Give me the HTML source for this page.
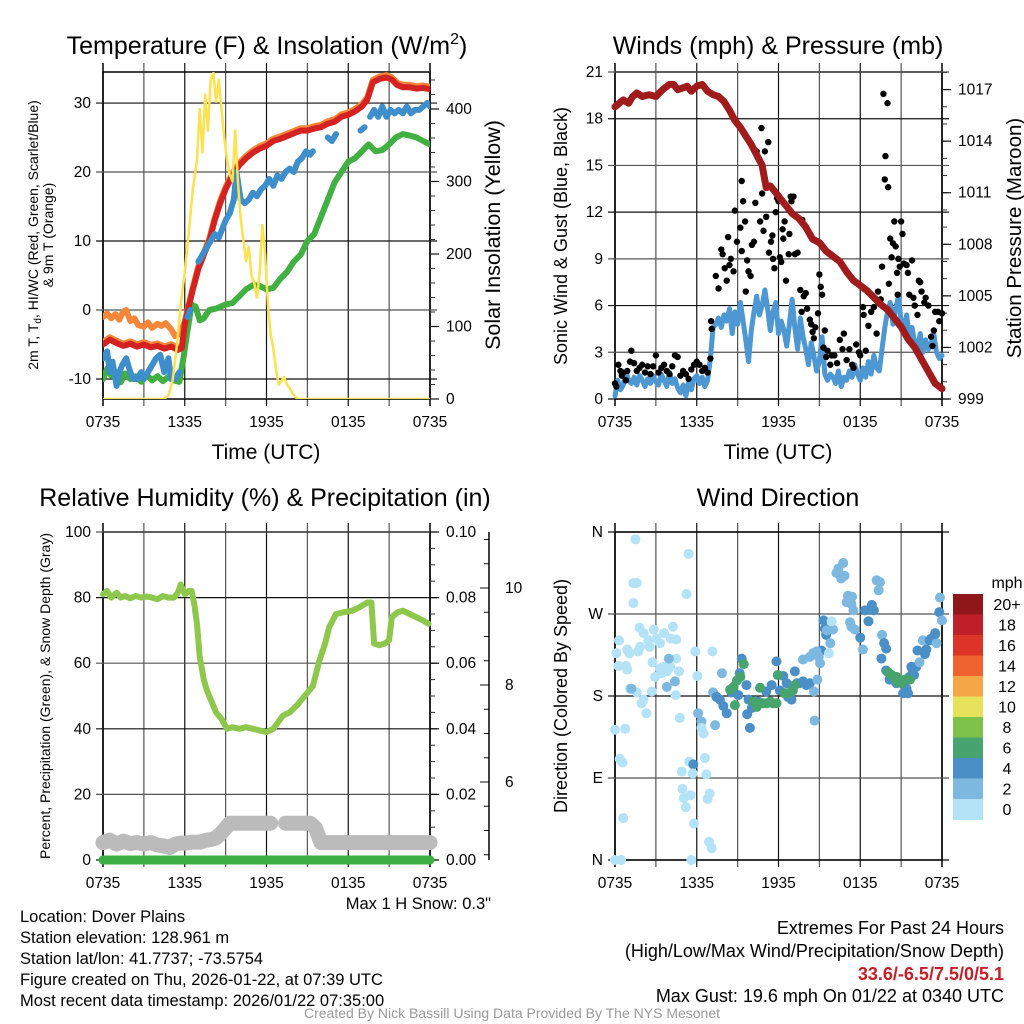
<!DOCTYPE html>
<html><head><meta charset="utf-8"><title>Dover Plains Meteogram</title>
<style>
html,body{margin:0;padding:0;background:#fff;}
svg{display:block;font-family:"Liberation Sans",Arial,sans-serif;}
</style></head>
<body>
<svg id="fig" width="1024" height="1024" viewBox="0 0 1024 1024" xmlns="http://www.w3.org/2000/svg">
<rect x="0" y="0" width="1024" height="1024" fill="#fff"/>
<text x="267" y="54" font-size="25" text-anchor="middle">Temperature (F) &amp; Insolation (W/m<tspan font-size="16" dy="-10">2</tspan><tspan dy="10">)</tspan></text>
<text x="778" y="54" font-size="25" text-anchor="middle">Winds (mph) &amp; Pressure (mb)</text>
<text x="265" y="506" font-size="25" text-anchor="middle">Relative Humidity (%) &amp; Precipitation (in)</text>
<text x="778" y="506" font-size="25" text-anchor="middle">Wind Direction</text>

<text x="266" y="459" font-size="21" text-anchor="middle">Time (UTC)</text>
<text x="778" y="459" font-size="21" text-anchor="middle">Time (UTC)</text>

<text transform="translate(38,235) rotate(-90)" font-size="14" text-anchor="middle">2m T, T<tspan font-size="10" dy="3">d</tspan><tspan dy="-3">, HI/WC (Red, Green, Scarlet/Blue)</tspan></text>
<text transform="translate(53,235) rotate(-90)" font-size="14" text-anchor="middle">&amp; 9m T (Orange)</text>
<text transform="translate(500,235) rotate(-90)" font-size="21.5" text-anchor="middle">Solar Insolation (Yellow)</text>
<text transform="translate(567,236) rotate(-90)" font-size="18" text-anchor="middle">Sonic Wind &amp; Gust (Blue, Black)</text>
<text transform="translate(1021,238) rotate(-90)" font-size="20.5" text-anchor="middle">Station Pressure (Maroon)</text>
<text transform="translate(50,696) rotate(-90)" font-size="14" text-anchor="middle">Percent, Precipitation (Green), &amp; Snow Depth (Gray)</text>
<text transform="translate(567,696) rotate(-90)" font-size="18" text-anchor="middle">Direction (Colored By Speed)</text>

<text x="491" y="909" font-size="16.5" text-anchor="end">Max 1 H Snow: 0.3"</text>
<g font-size="16.5">
<text x="20" y="922">Location: Dover Plains</text>
<text x="20" y="943">Station elevation: 128.961 m</text>
<text x="20" y="964">Station lat/lon: 41.7737; -73.5754</text>
<text x="20" y="985">Figure created on Thu, 2026-01-22, at 07:39 UTC</text>
<text x="20" y="1006">Most recent data timestamp: 2026/01/22 07:35:00</text>
</g>
<g font-size="18" text-anchor="end">
<text x="1004" y="934">Extremes For Past 24 Hours</text>
<text x="1004" y="957">(High/Low/Max Wind/Precipitation/Snow Depth)</text>
<text x="1004" y="980" font-weight="bold" fill="#C8202A">33.6/-6.5/7.5/0/5.1</text>
<text x="1004" y="1002">Max Gust: 19.6 mph On 01/22 at 0340 UTC</text>
</g>
<text x="512" y="1018" font-size="14" fill="#999" text-anchor="middle">Created By Nick Bassill Using Data Provided By The NYS Mesonet</text>
</svg>
<script>
// ---------- DATA ----------
const xTickLabels = ["0735","1335","1935","0135","0735"];
const tempTicks = [-10,0,10,20,30];
const solarTicks = [0,100,200,300,400];
const windTicks = [0,3,6,9,12,15,18,21];
const presTicks = [999,1002,1005,1008,1011,1014,1017];
const rhTicks = [0,20,40,60,80,100];
const precipTickLabels = ["0.00","0.02","0.04","0.06","0.08","0.10"];
const snowTicks = [6,8,10];
const dirTickLabels = ["N","E","S","W","N"];
const speedBins = ["0","2","4","6","8","10","12","14","16","18","20+"];
const speedColors = ["#B4E2F6","#7DB8E1","#4A8FC5","#48A46E","#7DC04A","#E7E25B","#F5A646","#EE6330","#DC3427","#C01F2A","#901719"];

// Temperature panel (hours since 0735 UTC)
const redT = [0,0.5,1,1.5,2,2.5,3,3.5,4,4.5,5,5.5,5.8,6,6.3,6.6,7,7.4,7.8,8.2,8.6,9,9.5,10,10.5,11,11.5,12,12.5,13,13.5,14,14.5,15,15.5,16,16.5,17,17.5,18,18.5,19,19.4,19.8,20.3,20.8,21.2,21.6,22,22.5,23,23.5,24];
const redV = [-5,-4.3,-4.8,-5.2,-4.9,-5.3,-5.0,-5.4,-5.2,-5.6,-5.3,-5.8,-5.5,-2,0.5,3,6,8,10,13,15.5,17.5,19.5,21,22,22.8,23.4,23.8,24.5,24.8,25.2,25.6,26,26,26.3,26.5,27,27.3,28,28.3,28.8,29.5,30.5,33,33.5,33.7,33.4,32.6,32.3,32.3,32.1,32.2,32];
const orangeT = [0,0.3,0.6,0.9,1.2,1.5,1.7,2,2.3,2.6,3,3.3,3.6,4,4.3,4.6,5,5.3,5.6,5.9,6.2];
const orangeV = [-1,-0.5,-1.2,-0.6,-1.4,-0.2,0,-1.6,-1.2,-2.2,-2.4,-1.8,-2.6,-2.0,-2.3,-1.9,-2.8,-3.8,-3.5,-2.2,-0.5];
const greenT = [0,0.3,0.6,1,1.3,1.6,2,2.4,2.8,3.2,3.6,4,4.4,4.8,5.2,5.6,5.9,6.2,6.5,6.8,7.1,7.4,7.8,8.3,9,9.5,10,10.5,11,11.5,12,12.5,13,13.5,14,14.5,15,15.5,16,16.5,17,17.5,18,18.5,19,19.5,20,20.5,21,21.5,22,22.5,23,23.5,24];
const greenV = [-10,-8.5,-9.5,-9.8,-10.5,-9.2,-10,-9.6,-10.4,-9.4,-10.2,-9.6,-10.3,-9.7,-10.2,-10.4,-7,-3,0.8,0.5,-1.5,-1.2,0,0.2,0.8,1,2,3,3.6,3.5,3,3.2,4.5,5.5,7,8,10,11,13.5,16,18.5,20,21.5,22,23,24,23,23.2,24,25,25.5,25.3,25,24.5,24];
const blueT = [0,0.3,0.5,0.7,1,1.2,1.4,1.7,2,2.2,2.5,2.8,3,3.3,3.6,3.9,4.2,4.5,4.8,5,5.3,5.6,null,6.2,6.4,null,7,7.3,7.6,7.9,8.2,8.5,8.8,9,9.3,9.6,9.8,10.1,10.4,10.7,11,11.3,11.6,11.9,12.2,12.5,12.8,13.1,13.4,13.7,14,14.3,14.6,14.9,15.2,15.4,null,16.5,16.8,17.1,null,18.9,19.2,null,19.6,19.9,20.2,20.5,20.8,21.1,21.4,21.7,22,22.3,22.6,22.9,23.2,23.5,23.8,24];
const blueV = [-7,-6,-9,-7.5,-11,-9,-8,-7,-9,-10,-10,-9,-10,-9,-8,-7,-6.5,-9,-7,-10,-10,-9,null,-1,0,null,7,8,9,10,11,10.5,12,13,14,16,20,16,15.5,16,17,16.5,17.5,18,19,18,19.5,19,20,20.5,20,21.5,22,23,22.5,23,null,25,24.5,25.5,null,26,26.5,null,28,29,28,29.5,28,29,28.5,29,28.5,29.5,28.5,29,29,29.5,30,29.5];
const solarT = [0,4.5,4.8,5.1,5.4,5.7,6,6.3,6.6,6.9,7.1,7.3,7.5,7.7,7.9,8.1,8.3,8.5,8.7,8.9,9.1,9.3,9.5,9.7,9.9,10.1,10.3,10.5,10.7,10.9,11.1,11.3,11.5,11.7,11.9,12.1,12.3,12.5,12.7,12.9,13.1,13.3,13.5,13.7,13.9,14.1,14.3,14.5,24];
const solarV = [0,0,5,25,70,130,175,230,290,330,400,340,420,370,440,450,410,440,400,360,330,310,300,370,300,250,220,190,210,170,160,140,175,240,200,130,90,70,40,20,25,30,20,15,8,3,0,0,0];

// Wind panel
const presT = [0,0.3,0.6,1,1.3,1.6,2,2.5,3,3.5,4,4.3,4.6,5,5.3,5.6,6,6.4,6.8,7.2,7.6,8,8.4,8.8,9.2,9.6,10,10.4,10.8,11.1,11.4,11.8,12.2,12.6,13,13.5,14,14.5,15,15.5,16,16.5,17,17.5,18,18.5,19,19.5,20,20.5,21,21.5,22,22.5,23,23.5,24];
const presV = [1016,1016.2,1016.4,1016.2,1016.6,1016.8,1016.6,1016.7,1016.6,1017,1017.3,1017.3,1017,1017.1,1017.2,1016.9,1017.2,1017.3,1016.9,1016.7,1016.6,1016.3,1015.8,1015.2,1014.8,1014.3,1013.8,1013.2,1012.6,1011.3,1011.4,1011,1010.6,1010.2,1009.8,1009.5,1009,1008.3,1008.1,1007.6,1007.3,1007,1006.4,1005.9,1005.6,1005.3,1004.9,1004.5,1004.2,1003.7,1003.2,1002.5,1002,1001.3,1000.6,999.9,999.6];
const windT = [0,0.2,0.4,0.6,0.8,1,1.2,1.4,1.6,1.8,2,2.2,2.4,2.6,2.8,3,3.2,3.4,3.6,3.8,4,4.2,4.4,4.6,4.8,5,5.2,5.4,5.6,5.8,6,6.2,6.4,6.6,6.8,7,7.2,7.4,7.6,7.8,8,8.2,8.4,8.6,8.8,9,9.2,9.4,9.6,9.8,10,10.2,10.4,10.6,10.8,11,11.2,11.4,11.6,11.8,12,12.2,12.4,12.6,12.8,13,13.2,13.4,13.6,13.8,14,14.2,14.4,14.6,14.8,15,15.2,15.4,15.6,15.8,16,16.2,16.4,16.6,16.8,17,17.2,17.4,17.6,17.8,18,18.2,18.4,18.6,18.8,19,19.2,19.4,19.6,19.8,20,20.2,20.4,20.6,20.8,21,21.2,21.4,21.6,21.8,22,22.2,22.4,22.6,22.8,23,23.2,23.4,23.6,23.8,24];
const windV = [0.2,1.2,0.6,0.9,1.8,1.2,1.0,1.4,0.9,1.5,1.2,0.8,1.3,1.0,1.5,1.1,0.9,1.6,1.2,0.8,1.7,1.0,1.3,0.7,0.4,0.9,0.2,1.1,0.6,1.3,1.5,1.0,1.4,0.8,1.2,2.6,4.6,4.8,5.2,4.6,5.4,5.0,5.8,4.2,5.6,4.8,6.2,5.0,3.8,2.4,4.4,5.6,6.6,5.4,6.0,7.0,5.8,4.4,5.6,6.2,4.2,5.0,4.4,3.4,4.8,6.4,4.6,3.2,5.2,4.0,3.2,2.2,3.6,2.8,1.8,2.4,4.0,1.6,1.2,1.6,1.4,1.0,1.8,0.8,1.4,1.2,1.8,1.4,2.2,1.6,1.2,2.0,1.4,2.4,1.6,2.8,2.0,1.8,3.2,4.6,5.6,6.2,4.8,5.8,6.6,5.0,4.4,5.4,4.0,4.6,3.6,3.2,4.2,3.0,3.8,3.2,3.6,4.2,3.0,2.6,2.8];
const gustT = [0,0.1,0.25,0.4,0.5,0.6,0.8,0.9,1.1,1.2,1.4,1.6,1.8,2.0,2.2,2.4,2.6,2.8,3.0,3.2,3.4,3.6,3.8,4.0,4.2,4.4,4.6,4.8,5.0,5.2,5.4,5.6,5.8,6.0,6.2,6.4,6.6,6.8,7.0,7.05,7.1,7.4,7.6,7.8,7.9,8.05,8.2,8.3,8.4,8.5,8.7,8.8,8.95,9.2,9.3,9.4,9.3,9.55,9.6,9.7,9.8,9.95,10.05,10.2,10.3,10.4,10.6,10.65,10.75,10.8,10.9,11.0,11.1,11.25,11.3,11.45,11.55,11.6,11.7,11.8,11.9,12.0,12.1,12.2,12.3,12.35,12.45,12.55,12.75,12.8,12.9,12.95,13.1,13.2,13.4,13.6,13.7,13.75,13.85,14.0,14.1,14.3,14.4,14.5,14.6,14.7,14.9,15.0,15.1,15.2,15.3,15.4,15.5,15.6,15.8,15.9,16.1,16.3,16.5,16.7,16.8,17.0,17.2,17.4,17.5,17.7,17.9,18.0,18.2,18.25,18.4,18.6,18.8,19.0,19.2,19.3,19.5,19.6,19.7,19.8,19.85,20.0,20.05,20.1,20.2,20.3,20.4,20.5,20.6,20.7,20.75,20.8,20.9,21.0,21.1,21.2,21.4,21.5,21.6,21.8,21.9,22.0,22.2,22.3,22.4,22.5,22.7,22.8,23.0,23.2,23.3,23.4,23.5,23.7,23.8,24.0];
const gustV = [1,0.8,2.2,1.8,1.5,1.7,1.2,1.8,2.4,3.1,2.3,1.8,2.0,2.2,1.7,2.1,1.6,2.1,2.8,1.7,2.0,2.2,1.8,1.6,2.1,2.8,2.7,1.5,1.8,1.6,1.3,1.9,2.2,2.4,2.2,1.8,2.0,1.7,2.6,5.0,4.5,7.9,7.1,9.6,9.3,8.4,7.6,10.4,8.6,9.0,8.2,12.1,10.1,11.0,14.0,12.7,9.5,11.4,6.9,8.9,8.2,7.9,9.9,10.1,12.6,15.9,15.3,11.4,17.4,13.2,10.8,15.9,11.7,16.5,9.4,10.1,10.5,9.0,8.4,12.0,12.9,12.7,9.1,8.8,10.9,10.3,11.4,7.6,9.3,10.6,13.0,12.7,13.0,9.3,9.4,7.0,5.6,11.5,6.6,6.8,5.8,5.1,4.8,4.3,3.9,4.6,5.5,8.0,7.2,6.7,3.3,4.4,2.7,3.1,2.2,2.8,2.8,2.3,3.8,3.2,4.2,2.5,3.2,2.2,2.0,3.5,3.0,2.8,5.9,5.4,3.1,4.7,5.6,5.9,4.2,6.9,6.4,8.5,19.6,14.1,15.6,19.0,13.6,7.4,10.3,9.1,10.0,11.4,9.8,8.1,6.7,9.0,8.5,11.4,10.6,8.7,8.6,8.1,6.7,8.9,6.5,6.0,5.4,7.6,7.5,6.9,6.2,6.5,6.0,4.0,3.4,4.4,5.6,5.6,5.0,5.5];

// Humidity panel
const rhT = [0,0.3,0.6,1,1.3,1.6,2,2.4,2.8,3.2,3.6,4,4.4,4.8,5.2,5.5,5.7,6,6.3,6.5,6.7,6.9,7.1,7.4,7.6,8,8.3,8.7,9.1,9.5,10,10.5,11,11.5,12,12.5,13.2,13.7,14.2,14.8,15.4,15.9,16.3,16.6,17.1,17.6,18.3,18.8,19.4,19.7,19.9,20.3,20.7,21,21.2,21.6,22,22.5,23,23.5,23.9];
const rhV = [81,82,80,81.5,80,80.5,79.8,80.5,80,80.3,80,79.5,80.5,80,80,81.5,84,81,82,82,78,72,62,55,52,48,45,43,40,40.5,40,40.5,40,39.5,39,40,44,45,47,50,53,61,66,71,75,75.5,76,77,78.5,78.5,66,65.5,66,67,74,75.5,76,75,74,73,72];
const precipT = [0,24];
const precipV = [0,0];
const snowT = [0,0.5,1,1.5,2,2.5,3,3.5,4,4.5,4.9,5.3,5.7,6.1,6.6,7.1,7.6,8,8.3,8.7,9.3,10,11,12.3,null,13.4,14.2,15.2,15.6,16,17,18,19,20,21,22,23,24];
const snowV = [4.75,4.8,4.72,4.78,4.73,4.75,4.72,4.75,4.7,4.68,4.65,4.72,4.74,4.74,4.76,4.76,4.8,4.82,4.85,4.95,5.15,5.15,5.15,5.15,null,5.15,5.15,5.15,5.05,4.75,4.75,4.75,4.75,4.75,4.75,4.75,4.75,4.75];

// Wind direction panel: hours, degrees, speed (mph)
const dirT = [1.5,1.35,1.6,1.35,0.3,0.1,0.25,0.9,1.05,0.8,0.9,1.8,2.1,2.45,1.85,1.7,2.55,2.85,3.05,3.3,3.6,4.25,4.1,4.5,2.75,3.3,3.55,2.95,3.4,3.8,4.05,4.5,4.7,1.1,1.6,2.7,2.1,1.95,2.3,4.45,4.75,0,0.75,0.35,0.55,0.6,0,0.45,3.95,4.4,3.8,1.2,
5.4,5.25,5.9,6.05,7.15,5.6,6.1,6.35,6.5,6.6,6.7,6.35,5.45,5.75,4.9,5.7,4.95,5.05,5.2,5.55,6.8,6.95,5.8,6.9,7.1,7.2,7.35,
7.45,7.7,7.95,8.2,7.85,8.55,9.05,9.15,9.65,9.8,9.7,9.9,10.05,10.5,11.1,11.5,11.85,12.1,12.35,12.6,12.7,12.95,13.2,13.35,13.55,13.8,14.05,14.3,14.6,14.65,14.85,15.05,15.15,15.3,15.4,15.5,14.95,13.8,14.3,14.55,14.8,15.8,16.0,15.9,15.7,15.55,16.25,16.6,16.75,16.85,16.4,17.0,17.1,17.35,17.5,17.35,17.6,17.4,17.25,18.0,18.2,18.35,18.6,18.85,19.0,19.2,19.45,19.35,19.6,19.75,19.9,19.55,19.9,20.15,20.4,20.65,21.15,21.4,21.5,21.6,21.75,21.85,22.1,21.95,22.2,22.35,22.6,22.75,22.85,23.1,23.2,23.5,23.6,23.8,23.85,24.0,23.5,
9.3,9.45,9.2,8.95,8.7,8.8,8.45,10.15,10.4,10.65,10.9,11.15,11.4,11.6,11.85,10.65,11.95,12.45,12.7,13.05,13.2,20.05,20.3,20.55,20.8,21.05,21.3,21.65,20.9,20.65];
const dirDeg = [352,304,304,282,241,227,213,231,227,213,209,255,249,241,234,229,234,253,243,238,249,256,243,242,217,210,212,201,205,207,212,221,207,188,184,185,176,172,161,181,156,143,144,111,107,46,0,0,221,196,190,188,
336,292,229,202,229,0,161,152,139,112,94,145,108,105,97,95,78,68,58,71,67,73,40,20,13,184,148,
179,176,169,161,205,184,181,205,192,176,160,145,167,174,185,192,218,186,202,194,179,176,207,194,194,196,192,194,185,153,198,216,230,263,254,247,223,220,223,227,229,238,253,262,227,252,315,309,326,312,320,283,290,281,274,256,253,289,261,244,231,274,262,280,274,307,305,296,247,238,232,221,208,198,198,194,183,188,183,201,212,208,212,203,230,217,241,226,231,241,243,249,238,272,288,263,248,
221,215,201,197,190,170,187,174,168,172,172,172,174,172,172,189,203,183,183,186,192,206,203,199,195,194,198,198,198,201];
const dirSpd = [1,1,1,1,1,1,1,1,1,1,1,1,1,1,1,1,1,1,1,1,1,1,1,1,1,1,1,1,1,1,1,1,1,1,1,1,1,1,1,1,1,1,1,1,1,1,1,1,3,3,3,3,
1,1,1,1,1,1,3,3,1,1,1,1,1,5,1,1,1,1,1,1,1,1,1,1,1,3,3,
5,5,5,5,3,5,5,5,5,5,5,5,5,5,5,5,5,5,5,5,5,5,5,5,5,5,5,5,3,3,3,3,5,5,5,5,3,3,3,3,3,3,3,1,1,3,3,3,3,3,3,3,3,3,3,3,3,3,3,5,3,5,5,5,5,3,3,3,3,5,5,5,5,5,5,5,5,5,5,5,5,5,5,5,5,3,3,5,5,5,5,5,3,5,3,3,5,5,
7,7,7,7,7,7,7,7,7,7,7,7,7,7,7,7,7,7,7,7,7,7,7,7,7,7,7,7,7,7];

// ---------- DRAWING ----------
const NS = "http://www.w3.org/2000/svg";
const svg = document.getElementById("fig");
function mk(tag, attrs, parent){
  const e = document.createElementNS(NS, tag);
  for (const k in attrs) e.setAttribute(k, attrs[k]);
  (parent||svg).appendChild(e);
  return e;
}
function linScale(d0,d1,r0,r1){ return v => r0 + (v-d0)/(d1-d0)*(r1-r0); }

function frame(P, name){
  const g = mk("g", {});
  
  
  for (let h=0; h<=24; h+=3){
    const x = P.x(h);
    const l = mk("line", {x1:x, x2:x, y1:P.top-9, y2:P.bot+7, stroke:(h%6===0?"#111":"#555"), "stroke-width":(h===0||h===24)?1.6:1.2}, g);
    
    
  }
  xTickLabels.forEach((lab,i)=>{
    const t = mk("text", {x:P.x(i*6), y:P.bot+28, "font-size":15.5, "text-anchor":"middle"}, g);
    t.textContent = lab;
    
    
  });
  const r = mk("rect", {x:P.left, y:P.top, width:P.right-P.left, height:P.bot-P.top, fill:"none", stroke:"#111", "stroke-width":1.6}, g);
  
  
  return g;
}
function yGrid(P, ticks, scale, labels, g){
  ticks.forEach((v,i)=>{
    const y = scale(v);
    const l = mk("line", {x1:P.left-7, x2:P.right+7, y1:y, y2:y, stroke:(i%2?"#555":"#111"), "stroke-width":1.2}, g);
    
    
    const t = mk("text", {x:P.left-12, y:y+5, "font-size":15.5, "text-anchor":"end"}, g);
    t.textContent = labels ? labels[i] : String(v);
    
    
  });
}
function rightTicks(P, ticks, scale, labels, g, minorStep, dmin, dmax){
  if (minorStep){
    for (let v=dmin; v<=dmax+1e-9; v+=minorStep){
      const y = scale(v);
      if (y < P.top-0.5 || y > P.bot+0.5) continue;
      const l = mk("line", {x1:P.right, x2:P.right+5, y1:y, y2:y, stroke:"#333", "stroke-width":1}, g);
      
      
    }
  }
  ticks.forEach((v,i)=>{
    const y = scale(v);
    const l = mk("line", {x1:P.right, x2:P.right+9, y1:y, y2:y, stroke:"#111", "stroke-width":1.2}, g);
    
    
    const t = mk("text", {x:P.right+16, y:y+5, "font-size":15.5}, g);
    t.textContent = labels ? labels[i] : String(v);
    
    
  });
}
function pathFrom(ts, vs, xs, ys){
  let d = "", pen = false;
  for (let i=0;i<ts.length;i++){
    if (ts[i]===null || vs[i]===null){ pen=false; continue; }
    d += (pen?"L":"M") + xs(ts[i]).toFixed(1) + "," + ys(vs[i]).toFixed(1);
    pen = true;
  }
  return d;
}
function line(g, ts, vs, xs, ys, color, w, name){
  const p = mk("path", {d:pathFrom(ts,vs,xs,ys), fill:"none", stroke:color, "stroke-width":w, "stroke-linejoin":"round", "stroke-linecap":"round"}, g);
  
  
  return p;
}

// Panel 1: temperature
(function(){
  const P = {left:103, right:430, top:72, bot:399};
  P.x = linScale(0,24,P.left,P.right);
  const yT = linScale(-12.9,34.5,P.bot,P.top);
  const yS = linScale(0,451,P.bot,P.top);
  const g = frame(P, "temperature");
  yGrid(P, tempTicks, yT, null, g);
  rightTicks(P, solarTicks, yS, null, g, 20, 0, 440);
  const clip = mk("clipPath", {id:"c1"});
  mk("rect", {x:P.left, y:P.top, width:P.right-P.left, height:P.bot-P.top}, clip);
  const s = mk("g", {"clip-path":"url(#c1)"});
  
  
  line(s, orangeT, orangeV, P.x, yT, "#F5873A", 6, "temp-9m-line");
  line(s, redT, redV.map(v=>v+0.35), P.x, yT, "#F5873A", 6, "temp-9m-line-upper");
  line(s, greenT, greenV, P.x, yT, "#41AF41", 6, "dewpoint-line");
  line(s, redT, redV, P.x, yT, "#D42222", 6, "temp-2m-line");
  line(s, blueT, blueV, P.x, yT, "#3E8ECB", 6, "windchill-line");
  line(s, solarT, solarV, P.x, yS, "#FCE24E", 2.5, "solar-insolation-line");
})();

// Panel 2: winds & pressure
(function(){
  const P = {left:615, right:942, top:72, bot:399};
  P.x = linScale(0,24,P.left,P.right);
  const yW = linScale(0,21,P.bot,P.top);
  const yP = linScale(999,1018,P.bot,P.top+0.4);
  const g = frame(P, "winds");
  yGrid(P, windTicks, yW, null, g);
  rightTicks(P, presTicks, yP, null, g, 1, 999, 1018);
  const clip = mk("clipPath", {id:"c2"});
  mk("rect", {x:P.left-4, y:P.top, width:P.right-P.left+8, height:P.bot-P.top+4}, clip);
  const s = mk("g", {"clip-path":"url(#c2)"});
  
  
  line(s, windT, windV, P.x, yW, "#4D97D2", 5, "sonic-wind-line");
  gustT.forEach((t,i)=>{
    const c = mk("circle", {cx:P.x(t), cy:yW(gustV[i]), r:3.2, fill:"#000"}, s);
    
    
  });
  line(s, presT, presV, P.x, yP, "#A01B1B", 7, "pressure-line");
})();

// Panel 3: humidity
(function(){
  const P = {left:103, right:430, top:532, bot:860};
  P.x = linScale(0,24,P.left,P.right);
  const yR = linScale(0,100,P.bot,P.top);
  const yPr = linScale(0,0.1,P.bot,P.top);
  const ySn = linScale(6,10,782,588);
  const g = frame(P, "humidity");
  yGrid(P, rhTicks, yR, null, g);
  rightTicks(P, rhTicks, yR, precipTickLabels, g, 5, 0, 100);
  const ax = mk("line", {x1:489, x2:489, y1:532, y2:860, stroke:"#111", "stroke-width":1.6}, g);
  
  
  for (let v=4.5; v<=11; v+=0.5){
    const y = ySn(v);
    if (y<532||y>860) continue;
    const major = snowTicks.indexOf(v) >= 0;
    const l = mk("line", {x1:489-(major?9:5), x2:489, y1:y, y2:y, stroke:"#111", "stroke-width":1}, g);
    
    
  }
  snowTicks.forEach(v=>{
    const t = mk("text", {x:505, y:ySn(v)+5, "font-size":15.5}, g);
    t.textContent = String(v);
    
    
  });
  const s = mk("g", {});
  
  
  line(s, snowT, snowV, P.x, ySn, "#BBBBBB", 15, "snow-depth-line");
  line(s, rhT, rhV, P.x, yR, "#8DC84C", 6, "relative-humidity-line");
  line(s, precipT, precipV, P.x, yPr, "#3DAE42", 9, "precipitation-line");
})();

// Panel 4: wind direction
(function(){
  const P = {left:615, right:942, top:532, bot:860};
  P.x = linScale(0,24,P.left,P.right);
  const yD = linScale(0,360,P.bot,P.top);
  const g = frame(P, "direction");
  yGrid(P, [0,90,180,270,360], yD, dirTickLabels, g);
  const s = mk("g", {});
  
  
  dirT.forEach((t,i)=>{
    const bin = Math.min(10, Math.max(0, Math.floor(dirSpd[i]/2)));
    const c = mk("circle", {cx:P.x(t), cy:yD(dirDeg[i]), r:5, fill:speedColors[bin]}, s);
    
    
  });
  const cb = mk("g", {});
  
  
  const top = 594, h = 20.5;
  const mt = mk("text", {x:1007, y:588, "font-size":16, "text-anchor":"middle"}, cb);
  mt.textContent = "mph";
  
  
  for (let i=0;i<speedBins.length;i++){
    const idx = speedBins.length-1-i;
    const r = mk("rect", {x:953, y:top+i*h, width:30, height:h+0.5, fill:speedColors[idx]}, cb);
    
    
    const t = mk("text", {x:1007, y:top+i*h+16, "font-size":16, "text-anchor":"middle"}, cb);
    t.textContent = speedBins[idx];
    
    
  }
})();
</script>
</body></html>
